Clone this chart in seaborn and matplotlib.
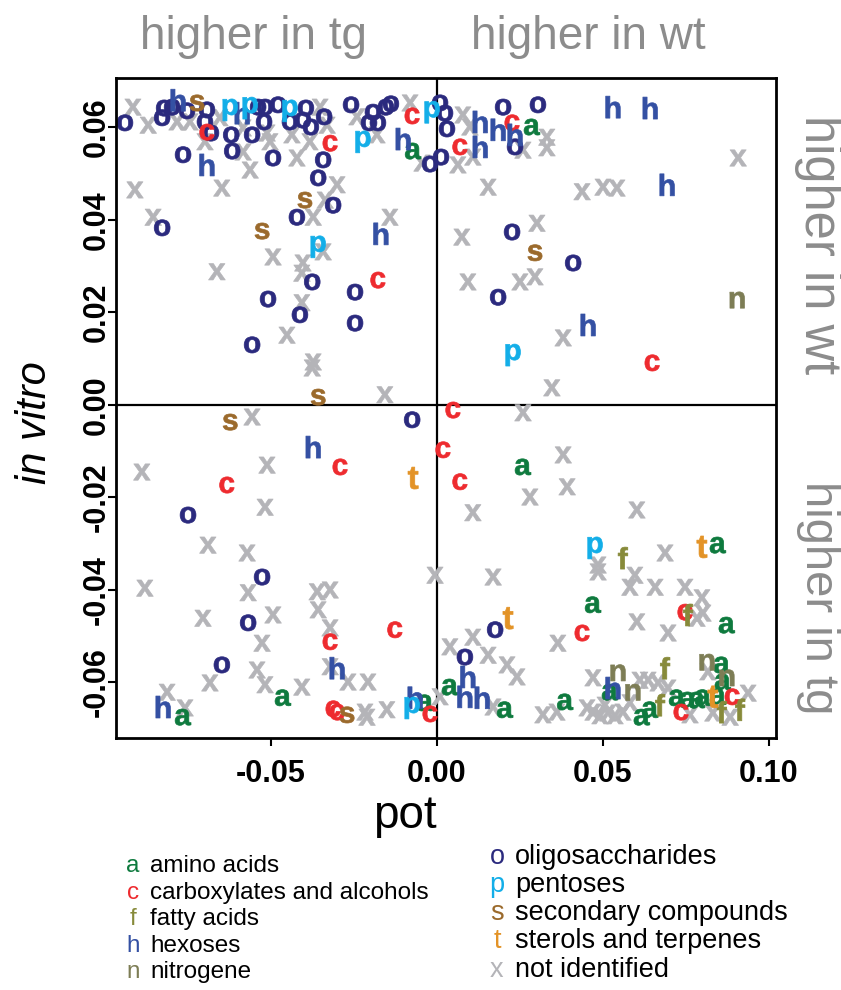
import numpy as np
import pandas as pd
import matplotlib
matplotlib.use("Agg")
import matplotlib.pyplot as plt
import seaborn as sns

# ---------------- data (pot, in vitro) per compound class ----------------
notid_pot = [-0.0916, -0.0870, -0.0783, -0.0744, -0.0654, -0.0584, -0.0512, -0.0503, -0.0437, -0.0383,
             -0.0352, -0.0331, -0.0422, -0.0699, -0.0563, -0.0648, -0.0910, -0.0855, -0.0373, -0.0337,
             -0.0301, -0.0241, -0.0081, -0.0181, -0.0045, -0.0142, -0.0584, -0.0494, -0.0663, -0.0404,
             -0.0407, -0.0407, -0.0452, -0.0373, -0.0376, -0.0157, -0.0343,
             0.0078, 0.0099, 0.0108, 0.0063, 0.0259, 0.0331, 0.0331, 0.0154, 0.0437, 0.0500,
             0.0542, 0.0907, 0.0301, 0.0075, 0.0093, 0.0250, 0.0295, 0.0380, 0.0346,
             -0.0557, -0.0889, -0.0512, -0.0518, -0.0690, -0.0572, -0.0880, -0.0569, -0.0361, -0.0322,
             -0.0358, -0.0494, -0.0705, -0.0527, -0.0322, -0.0542, -0.0518, -0.0684, -0.0322, -0.0268,
             -0.0208, -0.0407, -0.0813, -0.0759, -0.0217, -0.0211, -0.0151, -0.0006,
             0.0259, 0.0380, 0.0392, 0.0280, 0.0108, 0.0602, 0.0687, 0.0485, 0.0169, 0.0485,
             0.0596, 0.0581, 0.0657, 0.0747, 0.0798, 0.0602, 0.0696, 0.0364, 0.0783, 0.0801,
             0.0108, 0.0039, 0.0154, 0.0211, 0.0241, 0.0009, 0.0169, 0.0319, 0.0361, 0.0470,
             0.0611, 0.0636, 0.0696, 0.0937, 0.0470, 0.0491, 0.0515, 0.0536, 0.0560, 0.0581,
             0.0762, 0.0831, 0.0883, 0.0666, 0.0816, 0.0452, 0.0506]
notid_vitro = [0.0644, 0.0605, 0.0612, 0.0612, 0.0621, 0.0599, 0.0588, 0.0569, 0.0584, 0.0569,
               0.0644, 0.0605, 0.0534, 0.0569, 0.0508, 0.0469, 0.0465, 0.0406, 0.0406, 0.0443,
               0.0476, 0.0623, 0.0653, 0.0584, 0.0523, 0.0406, 0.0547, 0.0320, 0.0288, 0.0307,
               0.0285, 0.0221, 0.0151, 0.0093, 0.0080, 0.0022, 0.0331,
               0.0627, 0.0601, 0.0536, 0.0519, 0.0551, 0.0579, 0.0556, 0.0471, 0.0461, 0.0471,
               0.0469, 0.0534, 0.0393, 0.0363, 0.0266, 0.0266, 0.0277, 0.0145, 0.0037,
               -0.0026, -0.0145, -0.0130, -0.0221, -0.0303, -0.0320, -0.0396, -0.0406, -0.0404, -0.0400,
               -0.0443, -0.0454, -0.0461, -0.0515, -0.0482, -0.0573, -0.0605, -0.0601, -0.0566, -0.0599,
               -0.0599, -0.0610, -0.0621, -0.0655, -0.0664, -0.0675, -0.0659, -0.0368,
               -0.0017, -0.0108, -0.0177, -0.0199, -0.0233, -0.0227, -0.0320, -0.0346, -0.0372, -0.0361,
               -0.0368, -0.0394, -0.0394, -0.0394, -0.0417, -0.0469, -0.0493, -0.0515, -0.0461, -0.0450,
               -0.0502, -0.0523, -0.0541, -0.0562, -0.0588, -0.0631, -0.0653, -0.0670, -0.0664, -0.0590,
               -0.0595, -0.0595, -0.0612, -0.0623, -0.0664, -0.0672, -0.0666, -0.0672, -0.0664, -0.0644,
               -0.0670, -0.0666, -0.0675, -0.0601, -0.0577, -0.0655, -0.0649]

oligo_pot = [-0.0940, -0.0828, -0.0822, -0.0798, -0.0753, -0.0693, -0.0699, -0.0681, -0.0620, -0.0557,
             -0.0539, -0.0518, -0.0479, -0.0395, -0.0404, -0.0380, -0.0340, -0.0443, -0.0521, -0.0343,
             -0.0494, -0.0617, -0.0765, -0.0828, -0.0422, -0.0313, -0.0358, -0.0259, -0.0193, -0.0205,
             -0.0178, -0.0154, -0.0139, -0.0021, 0.0009, 0.0024, 0.0030, 0.0012, 0.0199, 0.0304,
             0.0235, 0.0226, 0.0410, 0.0184, -0.0557, -0.0509, -0.0413, -0.0376, -0.0247, -0.0247,
             -0.0075, -0.0750, -0.0527, -0.0569, -0.0648, 0.0175, 0.0084]
oligo_vitro = [0.0610, 0.0621, 0.0642, 0.0644, 0.0636, 0.0638, 0.0612, 0.0588, 0.0584, 0.0584,
               0.0644, 0.0644, 0.0649, 0.0642, 0.0616, 0.0601, 0.0623, 0.0612, 0.0612, 0.0530,
               0.0534, 0.0549, 0.0541, 0.0383, 0.0406, 0.0432, 0.0491, 0.0649, 0.0633, 0.0610,
               0.0610, 0.0644, 0.0651, 0.0521, 0.0653, 0.0631, 0.0597, 0.0536, 0.0644, 0.0649,
               0.0558, 0.0374, 0.0307, 0.0233, 0.0130, 0.0229, 0.0195, 0.0266, 0.0244, 0.0177,
               -0.0032, -0.0238, -0.0372, -0.0471, -0.0562, -0.0486, -0.0545]

amino_pot = [-0.0072, 0.0286, 0.0259, 0.0846, 0.0470, 0.0873, -0.0464, -0.0765, -0.0036, 0.0039,
             0.0205, 0.0386, 0.0521, 0.0617, 0.0642, 0.0723, 0.0756, 0.0783, 0.0801, 0.0846,
             0.0858, 0.0861]
amino_vitro = [0.0549, 0.0601, -0.0134, -0.0303, -0.0432, -0.0476, -0.0633, -0.0675, -0.0644, -0.0610,
               -0.0659, -0.0642, -0.0621, -0.0675, -0.0659, -0.0633, -0.0638, -0.0638, -0.0633, -0.0631,
               -0.0562, -0.0599]

carbox_pot = [-0.0693, -0.0322, -0.0075, -0.0178, 0.0069, 0.0226, 0.0648, 0.0048, 0.0018, 0.0069,
              -0.0292, -0.0633, -0.0322, -0.0127, -0.0313, -0.0301, -0.0021, 0.0437, 0.0747, 0.0735,
              0.0889]
carbox_vitro = [0.0590, 0.0566, 0.0625, 0.0270, 0.0558, 0.0610, 0.0091, -0.0011, -0.0097, -0.0166,
                -0.0134, -0.0173, -0.0512, -0.0486, -0.0657, -0.0664, -0.0668, -0.0493, -0.0448, -0.0664,
                -0.0631]

fatty_pot = [0.0560, 0.0756, 0.0687, 0.0672, 0.0858, 0.0913]
fatty_vitro = [-0.0331, -0.0454, -0.0569, -0.0649, -0.0664, -0.0659]

hexose_pot = [-0.0780, -0.0587, -0.0693, -0.0102, -0.0169, 0.0130, 0.0184, 0.0235, 0.0130, 0.0530,
              0.0642, 0.0693, 0.0455, -0.0373, -0.0301, -0.0825, -0.0066, 0.0093, 0.0084, 0.0136,
              0.0530]
hexose_vitro = [0.0659, 0.0631, 0.0519, 0.0575, 0.0370, 0.0612, 0.0595, 0.0584, 0.0558, 0.0644,
                0.0642, 0.0476, 0.0173, -0.0091, -0.0569, -0.0653, -0.0633, -0.0588, -0.0631, -0.0633,
                -0.0612]

nitro_pot = [0.0904, 0.0545, 0.0590, 0.0813, 0.0873]
nitro_vitro = [0.0227, -0.0579, -0.0621, -0.0556, -0.0590]

pentose_pot = [-0.0623, -0.0563, -0.0443, -0.0223, -0.0015, -0.0358, 0.0229, 0.0476, -0.0075]
pentose_vitro = [0.0638, 0.0642, 0.0636, 0.0569, 0.0633, 0.0342, 0.0108, -0.0309, -0.0655]

second_pot = [-0.0723, -0.0398, -0.0527, -0.0358, 0.0295, -0.0623, -0.0271]
second_vitro = [0.0653, 0.0443, 0.0376, 0.0017, 0.0329, -0.0037, -0.0670]

sterol_pot = [-0.0072, 0.0798, 0.0214, 0.0831]
sterol_vitro = [-0.0158, -0.0307, -0.0461, -0.0631]

# legend / category info
letters = ["a", "c", "f", "h", "n", "o", "p", "s", "t", "x"]
class_names = ["amino acids", "carboxylates and alcohols", "fatty acids", "hexoses", "nitrogene",
               "oligosaccharides", "pentoses", "secondary compounds", "sterols and terpenes", "not identified"]
colors = ["#0e7a3e", "#ee2b2f", "#878a3a", "#3450a3", "#7d7d55",
          "#2b2a7e", "#13aee8", "#9b6a2c", "#e39327", "#b4b4b8"]

xtick_vals = [-0.05, 0.00, 0.05, 0.10]
xtick_labels = ["-0.05", "0.00", "0.05", "0.10"]
ytick_vals = [-0.06, -0.04, -0.02, 0.00, 0.02, 0.04, 0.06]
ytick_labels = ["-0.06", "-0.04", "-0.02", "0.00", "0.02", "0.04", "0.06"]

# ---------------- build table (drawing order: x first) ----------------
groups = [("x", notid_pot, notid_vitro), ("o", oligo_pot, oligo_vitro), ("a", amino_pot, amino_vitro),
          ("c", carbox_pot, carbox_vitro), ("f", fatty_pot, fatty_vitro), ("h", hexose_pot, hexose_vitro),
          ("n", nitro_pot, nitro_vitro), ("p", pentose_pot, pentose_vitro), ("s", second_pot, second_vitro),
          ("t", sterol_pot, sterol_vitro)]
frames = [pd.DataFrame({"pot": p, "vitro": v, "cls": k}) for k, p, v in groups]
df = pd.concat(frames, ignore_index=True)

sns.set_theme(style="white")
plt.rcParams["font.family"] = ["Liberation Sans", "DejaVu Sans"]
plt.rcParams["mathtext.fontset"] = "custom"
plt.rcParams["mathtext.rm"] = "Liberation Sans"
plt.rcParams["mathtext.bf"] = "Liberation Sans:bold"
plt.rcParams["mathtext.it"] = "Liberation Sans:italic"
plt.rcParams["axes.unicode_minus"] = False
plt.rcParams["text.color"] = "black"
plt.rcParams["xtick.color"] = "black"
plt.rcParams["ytick.color"] = "black"

palette = dict(zip(letters, colors))
markers = {l: r"$\mathbf{%s}$" % l for l in letters}
tall = {"h", "f", "t", "p"}
sizes = {l: (250 if l in tall else (145 if l == "x" else 138)) for l in letters}

fig = plt.figure(figsize=(8.41, 9.90), dpi=100)
ax = fig.add_axes([116 / 841, 1 - 738 / 990, 660 / 841, 660 / 990])

ax.axhline(0, color="black", lw=1.6, zorder=0.5)
ax.axvline(0, color="black", lw=1.6, zorder=0.5)

sns.scatterplot(data=df, x="pot", y="vitro", hue="cls", style="cls", size="cls",
                palette=palette, markers=markers, sizes=sizes,
                hue_order=letters, style_order=letters, size_order=letters,
                edgecolor="face", linewidth=0.5, legend=False, ax=ax)

ax.set_xlim(-0.0967, 0.1021)
ax.set_ylim(-0.0720, 0.0707)
ax.set_xticks(xtick_vals, labels=xtick_labels)
ax.set_yticks(ytick_vals, labels=ytick_labels)
ax.tick_params(axis="both", which="major", bottom=True, left=True, length=6, width=1.5,
               color="black", labelcolor="black", labelsize=22)
ax.tick_params(axis="x", pad=9)
ax.tick_params(axis="y", pad=-3)
for lab in ax.get_xticklabels():
    lab.set_fontweight("bold")
for lab in ax.get_yticklabels():
    lab.set_fontweight("bold")
    lab.set_rotation(90)
    lab.set_verticalalignment("center")
for sp in ax.spines.values():
    sp.set_color("black")
    sp.set_linewidth(2)
ax.set_xlabel("")
ax.set_ylabel("")

gray = "#8c8c8c"
fig.text(253 / 841, 1 - 37 / 990, "higher in tg", color=gray, fontsize=33, ha="center", va="center")
fig.text(588 / 841, 1 - 37 / 990, "higher in wt", color=gray, fontsize=33, ha="center", va="center")
fig.text(818 / 841, 1 - 245 / 990, "higher in wt", color=gray, fontsize=36.5, ha="center", va="center",
         rotation=-90)
fig.text(818 / 841, 1 - 598 / 990, "higher in tg", color=gray, fontsize=34, ha="center", va="center",
         rotation=-90)
fig.text(405 / 841, 1 - 816 / 990, "pot", fontsize=33, ha="center", va="center")
fig.text(35 / 841, 1 - 423 / 990, "in vitro", fontsize=30, style="italic", ha="center", va="center",
         rotation=90)

# legend (two columns)
left_rows = [866, 893, 919, 946, 972]
right_rows = [857, 885, 913, 941, 970]
for i in range(5):
    y = 1 - left_rows[i] / 990
    fig.text(133 / 841, y, letters[i], color=colors[i], fontsize=17.5, ha="center", va="center")
    fig.text(150 / 841, y, class_names[i], color="black", fontsize=17.5, ha="left", va="center")
for i in range(5, 10):
    y = 1 - right_rows[i - 5] / 990
    fig.text(497 / 841, y, letters[i], color=colors[i], fontsize=19.5, ha="center", va="center")
    fig.text(515 / 841, y, class_names[i], color="black", fontsize=19.5, ha="left", va="center")

fig.savefig("out.png", dpi=100)
